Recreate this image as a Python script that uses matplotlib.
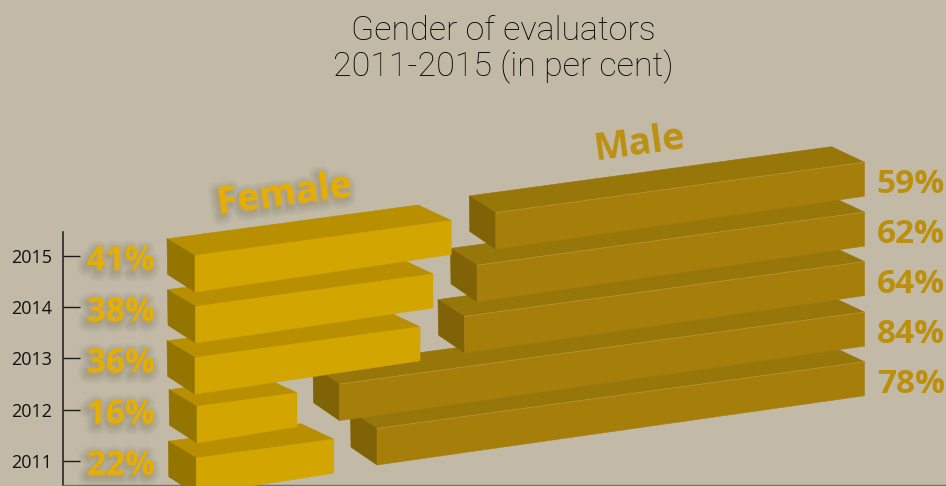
import matplotlib
matplotlib.use('Agg')
import matplotlib.pyplot as plt
import matplotlib.patheffects as pe
from matplotlib.patches import Polygon

years = [2011, 2012, 2013, 2014, 2015]
female = [22, 16, 36, 38, 41]
male = [78, 84, 64, 62, 59]

BG = '#C2BAA6'
F_FRONT, F_TOP, F_SIDE = '#D2A500', '#B88F00', '#937500'
M_FRONT, M_TOP, M_SIDE = '#A67F0B', '#97760A', '#806306'
F_TEXT = '#E6AE00'
M_TEXT = '#BC900F'

W, H = 946, 486
# pixels per unit on the two scales
PCT = 6.25
YR = 51.2
AX_LEFT, AX_TOP, AX_BOTTOM = 63, 232, 485
Y2011 = 460.7

# small per-bar layout nudges, in pixels
f_left = [133.3, 134, 132, 132.5, 132]
f_dy = [-2.7, -3, -0.7, -0.6, -0.3]
m_right = 864.5
m_dy = [-99, -97.4, -96.7, -95, -93.7]


def px_x(v):
    return (v - AX_LEFT) / PCT


def px_y(v):
    return 2011 + (Y2011 - v) / YR


def box(ax, left, top_left, value, front, top, side, zo, back=28, seam=None):
    # pseudo 3d bar, left/top_left are pixels, length comes from the value
    length = value * PCT
    right = left + length
    top_right = top_left - 0.137 * length
    h_left, h_right = 36.5, 34.0
    fl = (left, top_left)
    fr = (right, top_right)
    frb = (right, top_right + h_right)
    flb = (left, top_left + h_left)
    bl = (left - back, top_left - 16.8)
    blb = (left - back + 0.5, top_left - 16.8 + 35.5)
    br = (right - 33, top_right - 15.5)
    for pts, col in [([fl, bl, br, fr], top), ([fl, bl, blb, flb], side), ([fl, fr, frb, flb], front)]:
        ax.add_patch(Polygon([(px_x(a), px_y(b)) for a, b in pts], closed=True, fc=col, ec=col,
                             lw=0.4, clip_on=False, zorder=zo))
    if seam:
        ax.plot([px_x(fl[0]), px_x(fr[0])], [px_y(fl[1]), px_y(fr[1])], color=seam, lw=0.5,
                clip_on=False, zorder=zo)


def shadow(dark=0.028):
    fx = []
    for lw in [12, 10, 8, 6, 4, 2]:
        fx.append(pe.Stroke(linewidth=lw, foreground='#2e2a1e', alpha=dark, offset=(-1.5, -2.2)))
    fx.append(pe.Normal())
    return fx


fig = plt.figure(figsize=(W / 100, H / 100), dpi=100, facecolor=BG)
ax = fig.add_axes([AX_LEFT / W, 1 - AX_BOTTOM / H, (W - AX_LEFT) / W, (AX_BOTTOM - AX_TOP) / H], facecolor='none')
ax.set_xlim(0, (W - AX_LEFT) / PCT)
ax.set_ylim(px_y(AX_BOTTOM), px_y(AX_TOP))

for i in range(5):
    right = m_right
    left = right - male[i] * PCT
    top_right = Y2011 - (years[i] - 2011) * YR + m_dy[i]
    top_left = top_right + 0.137 * male[i] * PCT
    box(ax, left, top_left, male[i], M_FRONT, M_TOP, M_SIDE, 3 + i * 0.1, back=26.5, seam='#B8953A')
    ax.text(px_x(945), px_y(top_right + 22.5), str(male[i]) + '%', ha='right', va='center', color=M_TEXT,
            family='Open Sans', weight='bold', fontsize=24, clip_on=False, zorder=6)

for i in range(5):
    tick = Y2011 - (years[i] - 2011) * YR
    box(ax, AX_LEFT + f_left[i], tick + f_dy[i], female[i], F_FRONT, F_TOP, F_SIDE, 4 + i * 0.1)
    ax.text(px_x(155), px_y(tick + 5.5), str(female[i]) + '%', ha='right', va='center', color=F_TEXT,
            family='Open Sans', weight='bold', fontsize=24, zorder=6, path_effects=shadow())

ax.set_yticks(years)
ax.set_yticklabels([str(y) for y in years], family='Open Sans', fontsize=13, color='#111111')
ax.set_xticks([])
ax.tick_params(axis='y', direction='in', length=12.2, width=1.0, pad=7.5, color='#1a1a1a')
ax.spines['top'].set_visible(False)
ax.spines['right'].set_visible(False)
ax.spines['left'].set_linewidth(1.1)
ax.spines['left'].set_color('#1a1a1a')
ax.spines['bottom'].set_linewidth(1.0)
ax.spines['bottom'].set_color('#77735f')

ax.text(px_x(284.5), px_y(195), 'Female', rotation=7.8, rotation_mode='anchor', ha='center', va='center',
        color=F_TEXT, family='Open Sans', weight='bold', fontsize=27, clip_on=False, zorder=6,
        path_effects=shadow())
ax.text(px_x(639.5), px_y(144), 'Male', rotation=7.8, rotation_mode='anchor', ha='center', va='center',
        color=M_TEXT, family='Open Sans', weight='bold', fontsize=27, clip_on=False, zorder=6)

fig.text(503.5 / W, 1 - 49.5 / H, 'Gender of evaluators\n2011-2015 (in per cent)', ha='center', va='center',
         family='Roboto', weight='light', fontsize=24.5, color='#000000', linespacing=1.1)

fig.savefig('out.png', dpi=100, facecolor=BG)
